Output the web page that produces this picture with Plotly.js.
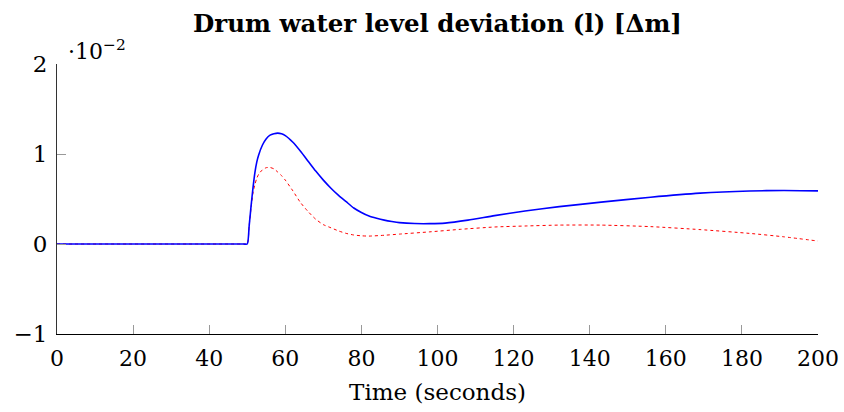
<!DOCTYPE html>
<html>
<head>
<meta charset="utf-8">
<script src="https://cdn.plot.ly/plotly-3.0.1.min.js"></script>
<style>html,body{margin:0;padding:0;background:#fff;}#chart{width:844px;height:412px;}</style>
</head>
<body>
<div id="chart"></div>
<script>
// Values in units of 10^-2 m
const timeBlue = [0, 49, 50, 50.5, 51, 51.5, 52, 52.5, 53, 54, 55, 56, 57, 58, 59, 60, 62, 64, 66, 68, 70, 72, 74, 76, 78, 80, 82, 84, 86, 88, 90, 94, 98, 102, 108, 115, 123, 132, 143, 156, 169, 182, 191, 200];
const levelBlue = [0, 0, 0, 0.20, 0.42, 0.62, 0.79, 0.91, 0.99, 1.10, 1.17, 1.21, 1.225, 1.232, 1.225, 1.205, 1.13, 1.03, 0.92, 0.81, 0.71, 0.62, 0.54, 0.47, 0.40, 0.35, 0.31, 0.285, 0.265, 0.25, 0.238, 0.227, 0.226, 0.232, 0.265, 0.315, 0.367, 0.415, 0.465, 0.52, 0.565, 0.589, 0.595, 0.59];

const timeRed = [0, 49, 50, 50.5, 51, 51.5, 52, 52.5, 53, 54, 55, 56, 57, 58, 59, 60, 62, 64, 66, 68, 70, 72, 74, 76, 78, 80, 82, 86, 90, 98, 106, 115, 123, 132, 143, 156, 169, 182, 191, 200];
const levelRed = [0, 0, 0, 0.20, 0.40, 0.56, 0.66, 0.73, 0.775, 0.825, 0.848, 0.85, 0.835, 0.80, 0.76, 0.71, 0.59, 0.46, 0.36, 0.275, 0.215, 0.18, 0.145, 0.118, 0.10, 0.091, 0.088, 0.097, 0.11, 0.135, 0.163, 0.189, 0.2, 0.21, 0.21, 0.193, 0.16, 0.118, 0.08, 0.033];

const xTicks = [0, 20, 40, 60, 80, 100, 120, 140, 160, 180, 200];
const yTicks = [-1, 0, 1, 2];
const yTickText = ['\u22121', '0', '1', '2'];

const serif = 'DejaVu Serif';

const traces = [
  {x: timeRed, y: levelRed, mode: 'lines', line: {color: '#ff0000', width: 1, dash: 'dot', shape: 'spline', smoothing: 0.6}, hoverinfo: 'skip'},
  {x: timeBlue, y: levelBlue, mode: 'lines', line: {color: '#0000ff', width: 1.6, shape: 'spline', smoothing: 0.6}, hoverinfo: 'skip'}
];

const layout = {
  width: 844, height: 412,
  margin: {l: 57, r: 26, t: 64, b: 78},
  paper_bgcolor: '#fff', plot_bgcolor: '#fff',
  showlegend: false,
  font: {family: serif, color: '#000', size: 23},
  title: {text: '<b>Drum water level deviation (l) [\u0394m]</b>', font: {family: serif, size: 24.5, color: '#000'},
          x: 0.5184, xanchor: 'center', y: 0.943, yref: 'container', yanchor: 'middle'},
  xaxis: {
    range: [0, 200], tickvals: xTicks, ticktext: xTicks.map(String),
    ticks: 'inside', ticklen: 9, tickcolor: '#999', tickwidth: 1,
    showline: true, linecolor: '#000', linewidth: 1, mirror: false,
    showgrid: false, zeroline: false,
    tickfont: {family: serif, size: 22}, ticklabelstandoff: 5,
    title: {text: 'Time (seconds)', font: {family: serif, size: 23}, standoff: 13}
  },
  yaxis: {
    range: [-1, 2], tickvals: yTicks, ticktext: yTickText,
    ticks: 'inside', ticklen: 9, tickcolor: '#999', tickwidth: 1,
    showline: true, linecolor: '#333', linewidth: 1, mirror: false,
    showgrid: false, zeroline: false,
    tickfont: {family: serif, size: 23}, ticklabelstandoff: 4
  },
  annotations: [{
    xref: 'paper', yref: 'paper', x: 0.012, y: 1.0, xanchor: 'left', yanchor: 'bottom', yshift: -2,
    text: '\u00b710<sup>\u22122</sup>', showarrow: false, font: {family: serif, size: 22, color: '#000'}
  }]
};

Plotly.newPlot('chart', traces, layout, {displayModeBar: false, staticPlot: true});
</script>
</body>
</html>
